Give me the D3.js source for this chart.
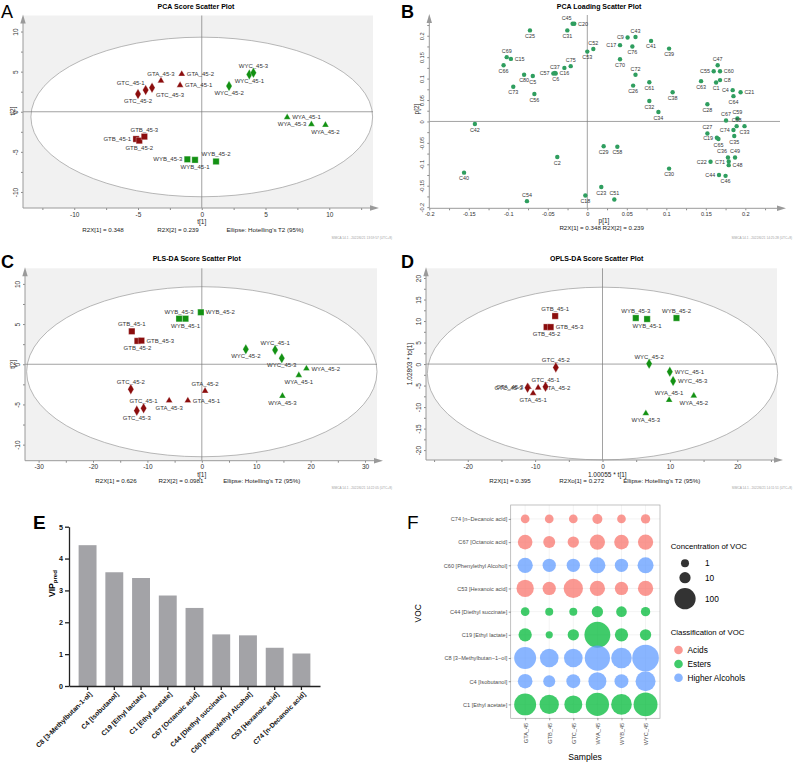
<!DOCTYPE html>
<html>
<head>
<meta charset="utf-8">
<script src="https://cdn.jsdelivr.net/npm/d3@7"></script>
<style>
  body { margin: 0; background: #fff; }
  svg { display: block; font-family: "Liberation Sans", Arial, sans-serif; }
</style>
</head>
<body>
<svg width="798" height="768"></svg>
<script>
var svg = d3.select("svg");

// ---------- data ----------
var samples = ["GTA_45-1", "GTA_45-2", "GTA_45-3", "GTB_45-1", "GTB_45-2", "GTB_45-3",
  "GTC_45-1", "GTC_45-2", "GTC_45-3", "WYA_45-1", "WYA_45-2", "WYA_45-3",
  "WYB_45-1", "WYB_45-2", "WYB_45-3", "WYC_45-1", "WYC_45-2", "WYC_45-3"];

// PCA scores
var pcaT1 = [-1.7, -1.57, -3.2, -5.15, -4.9, -4.5, -4.4, -5.0, -3.9, 6.7, 9.7, 8.6, -0.53, 1.12, -1.13, 3.73, 2.14, 4.05];
var pcaT2 = [3.3, 4.7, 3.86, -3.4, -3.6, -3.1, 2.7, 2.2, 3.0, -0.7, -1.65, -1.57, -6.0, -6.2, -5.93, 4.65, 3.2, 4.86];

// PLS-DA scores
var plsT1 = [-2.57, 0.6, -6.0, -12.87, -11.84, -11.1, -10.7, -13.05, -11.95, 17.83, 19.23, 14.82, -3.0, -0.18, -4.17, 13.47, 8.09, 14.7];
var plsT2 = [-4.52, -3.32, -4.52, 4.1, 2.9, 2.94, -5.48, -3.11, -5.77, -1.37, -0.54, -3.94, 5.67, 6.47, 5.67, 1.78, 1.86, 0.75];

// OPLS-DA scores
var oplsT1 = [-10.3, -9.55, -11.0, -7.03, -8.3, -7.7, -8.46, -6.93, -11.13, 9.89, 13.55, 6.43, 6.62, 10.98, 4.94, 9.99, 6.92, 10.48];
var oplsTo1 = [-6.8, -5.5, -5.35, 11.16, 8.6, 8.6, -5.27, -0.77, -5.5, -8.37, -7.37, -11.47, 10.47, 10.7, 10.7, -1.78, 0.07, -3.95];

// PCA loadings
var loadNames = ["C25", "C45", "C20", "C31", "C52", "C53", "C9", "C43", "C17", "C76", "C41", "C39", "C70", "C72", "C26", "C61", "C38", "C32", "C34",
  "C69", "C15", "C66", "C80", "C5", "C73", "C56", "C57", "C6", "C37", "C16", "C75", "C42", "C40", "C2", "C54", "C18", "C23", "C51", "C29", "C58", "C30",
  "C47", "C55", "C60", "C63", "C1", "C8", "C4", "C21", "C64", "C28", "C67", "C59", "C68", "C33", "C74", "C27", "C19", "C65", "C35", "C36", "C49", "C22", "C71", "C48", "C44", "C46"];
var loadP1 = [-0.0726, -0.0186, -0.0165, -0.0253, 0.0076, 0.0, 0.051, 0.061, 0.0414, 0.057, 0.0807, 0.1035, 0.0414, 0.061, 0.058, 0.0785, 0.108, 0.0785, 0.090,
  -0.102, -0.0967, -0.106, -0.080, -0.069, -0.0937, -0.067, -0.043, -0.040, -0.041, -0.029, -0.021, -0.1423, -0.156, -0.038, -0.0764, -0.0025, 0.0177, 0.0342, 0.0207, 0.038, 0.1035,
  0.165, 0.160, 0.168, 0.144, 0.163, 0.168, 0.184, 0.194, 0.185, 0.152, 0.1756, 0.190, 0.189, 0.199, 0.185, 0.152, 0.164, 0.166, 0.186, 0.178, 0.187, 0.156, 0.179, 0.179, 0.1667, 0.175];
var loadP2 = [0.2125, 0.228, 0.228, 0.2125, 0.169, 0.163, 0.196, 0.197, 0.178, 0.175, 0.188, 0.170, 0.145, 0.109, 0.0836, 0.0914, 0.068, 0.0477, 0.022,
  0.15, 0.146, 0.131, 0.109, 0.106, 0.081, 0.064, 0.112, 0.112, 0.113, 0.125, 0.129, -0.006, -0.1195, -0.083, -0.186, -0.173, -0.153, -0.182, -0.058, -0.059, -0.110,
  0.131, 0.117, 0.117, 0.094, 0.091, 0.0965, 0.073, 0.068, 0.059, 0.040, 0.0023, 0.007, -0.011, -0.011, -0.020, -0.028, -0.038, -0.041, -0.034, -0.084, -0.084, -0.094, -0.0935, -0.102, -0.125, -0.127];

// VIP
var vipNames = ["C8 [3-Methylbutan-1-ol]", "C4 [Isobutanol]", "C19 [Ethyl lactate]", "C1 [Ethyl acetate]", "C67 [Octanoic acid]",
  "C44 [Diethyl succinate]", "C60 [Phenylethyl Alcohol]", "C53 [Hexanoic acid]", "C74 [n-Decanoic acid]"];
var vipValues = [4.42, 3.57, 3.39, 2.84, 2.45, 1.62, 1.59, 1.2, 1.02];

// bubble chart
var bubbleSamples = ["GTA_45", "GTB_45", "GTC_45", "WYA_45", "WYB_45", "WYC_45"];
var vocNames = ["C74 [n\u2212Decanoic acid]", "C67 [Octanoic acid]", "C60 [Phenylethyl Alcohol]", "C53 [Hexanoic acid]",
  "C44 [Diethyl succinate]", "C19 [Ethyl lactate]", "C8 [3\u2212Methylbutan\u22121\u2212ol]", "C4 [Isobutanol]", "C1 [Ethyl acetate]"];
var vocClass = ["Acids", "Acids", "Higher Alcohols", "Acids", "Esters", "Esters", "Higher Alcohols", "Higher Alcohols", "Esters"];
var concC74 = [2.1, 2.1, 2.1, 5.5, 2.1, 3.6];
var concC67 = [30, 13.6, 10.5, 35, 30, 35];
var concC60 = [35, 21, 21, 41, 21, 41];
var concC53 = [53, 21, 75, 35, 21, 35];
var concC44 = [2.1, 1.0, 1.0, 10.5, 7.8, 3.6];
var concC19 = [21, 0.2, 10.5, 173, 21, 10.5];
var concC8 = [109, 67, 67, 161, 91, 185];
var concC4 = [30, 13.6, 25, 60, 25, 83];
var concC1 = [109, 75, 60, 129, 91, 139];
var classNames = ["Acids", "Esters", "Higher Alcohols"];
var sizeLegend = [1, 10, 100];

// ---------- label placement (layout only) ----------
var pcaPos = ["r", "r", "t", "l", "b", "t", "tl", "b", "br", "r", "b", "l", "b", "t", "l", "b", "b", "t"];
var plsPos = ["r", "t", "b", "t", "b", "r", "t", "t", "b", "b", "r", "b", "b", "r", "t", "t", "b", "b"];
var oplsPos = ["b", "r", "l", "t", "b", "r", "t", "t", "l", "t", "b", "b", "b", "t", "t", "r", "t", "r"];
var loadPos = ["b", "tl", "r", "b", "t", "b", "l", "t", "l", "b", "b", "b", "b", "t", "b", "b", "b", "b", "b",
  "t", "r", "b", "b", "b", "b", "b", "l", "b", "t", "b", "t", "b", "b", "b", "t", "b", "b", "t", "b", "b", "b",
  "t", "l", "r", "b", "b", "r", "l", "r", "b", "b", "t", "t", "t", "b", "l", "t", "l", "b", "b", "tl", "t", "l", "l", "r", "l", "b"];

var shapeOf = function(name) { return {A: d3.symbolTriangle, B: d3.symbolSquare, C: d3.symbolDiamond}[name.charAt(2)]; };
var sizeOf = function(name) { return {A: 20, B: 40, C: 32}[name.charAt(2)]; };
var colorOf = function(name) { return name.slice(0, 2) === "GT" ? "#8b0d0d" : "#139113"; };

function labelAt(px, py, pos, gap, up, down) {
  switch (pos) {
    case "r": return [px + gap, py + 2, "start"];
    case "l": return [px - gap, py + 2, "end"];
    case "t": return [px, py - up, "middle"];
    case "tl": return [px - 1, py - up, "end"];
    case "br": return [px + gap - 1, py + down, "start"];
    default: return [px, py + down, "middle"];
  }
}

function isMajor(v, step) { return Math.abs(v / step - Math.round(v / step)) < 1e-6; }
function fmt(v) { return String(+v.toFixed(3)); }

function frame(cfg) {
  var g = svg.append("g");
  var x = d3.scaleLinear().domain(cfg.xDom).range([cfg.left, cfg.right]);
  var y = d3.scaleLinear().domain(cfg.yDom).range([cfg.bottom, cfg.top]);

  if (cfg.ellipse) {
    g.append("rect")
      .attr("x", cfg.left).attr("y", cfg.top)
      .attr("width", cfg.right - cfg.left).attr("height", cfg.bottom - cfg.top)
      .attr("fill", "#f1f1f1");
    g.append("ellipse")
      .attr("cx", x(0)).attr("cy", y(cfg.ellipse.cy))
      .attr("rx", x(cfg.ellipse.rx) - x(0)).attr("ry", y(0) - y(cfg.ellipse.ry))
      .attr("fill", "#fff").attr("stroke", "#9a9a9a").attr("stroke-width", 0.7);
  }

  g.append("line")
    .attr("x1", cfg.left).attr("x2", cfg.right).attr("y1", y(0)).attr("y2", y(0))
    .attr("stroke", "#7a7a7a").attr("stroke-width", 0.7);
  g.append("line")
    .attr("x1", x(0)).attr("x2", x(0)).attr("y1", cfg.top).attr("y2", cfg.bottom)
    .attr("stroke", "#7a7a7a").attr("stroke-width", 0.7);

  var xAxis = g.append("g")
    .attr("transform", "translate(0," + cfg.bottom + ")")
    .call(d3.axisBottom(x).tickValues(cfg.xTicks).tickSize(2).tickPadding(2)
      .tickFormat(function(v) { return isMajor(v, cfg.xStep) ? fmt(v) : ""; }));
  var yAxis = g.append("g")
    .attr("transform", "translate(" + cfg.left + ",0)")
    .call(d3.axisLeft(y).tickValues(cfg.yTicks).tickSize(2)
      .tickFormat(function(v) { return isMajor(v, cfg.yStep) ? fmt(v) : ""; }));
  yAxis.selectAll("text")
    .attr("x", 0).attr("dy", 0)
    .attr("text-anchor", "middle")
    .attr("transform", "translate(-5,0) rotate(-90)");
  [xAxis, yAxis].forEach(function(a) {
    a.select(".domain").remove();
    a.attr("font-size", cfg.tickFont).attr("font-family", null);
    a.selectAll("line").attr("stroke", "#8a8a8a");
    a.selectAll("text").attr("fill", "#333");
  });

  // arrow axes
  g.append("line")
    .attr("x1", cfg.left).attr("x2", cfg.right + 1).attr("y1", cfg.bottom).attr("y2", cfg.bottom)
    .attr("stroke", "#9a9a9a").attr("stroke-width", 1);
  g.append("path")
    .attr("d", "M" + (cfg.right + 6) + "," + cfg.bottom + "l-9,-2.7v5.4z")
    .attr("fill", "#9a9a9a");
  g.append("line")
    .attr("x1", cfg.left).attr("x2", cfg.left).attr("y1", cfg.bottom).attr("y2", cfg.top + 4)
    .attr("stroke", "#9a9a9a").attr("stroke-width", 1);
  g.append("path")
    .attr("d", "M" + cfg.left + "," + (cfg.top - 1) + "l-2.7,9h5.4z")
    .attr("fill", "#9a9a9a");

  g.append("text")
    .attr("x", cfg.titleX).attr("y", cfg.titleY)
    .attr("text-anchor", "middle").attr("font-weight", "bold").attr("font-size", 7)
    .text(cfg.title);
  g.append("text")
    .attr("x", cfg.xLabelX).attr("y", cfg.xLabelY)
    .attr("text-anchor", "middle").attr("font-size", 6.5).attr("fill", "#222")
    .text(cfg.xLabel);
  g.append("text")
    .attr("transform", "translate(" + cfg.yLabelX + "," + cfg.yLabelY + ") rotate(-90)")
    .attr("text-anchor", "middle").attr("font-size", 6.5).attr("fill", "#222")
    .text(cfg.yLabel);
  cfg.stats.forEach(function(s) {
    g.append("text")
      .attr("x", s[1]).attr("y", cfg.statY)
      .attr("text-anchor", "middle").attr("font-size", 6.2).attr("fill", "#222")
      .text(s[0]);
  });
  g.append("text")
    .attr("x", cfg.stampX).attr("y", cfg.stampY)
    .attr("text-anchor", "end").attr("font-size", 3.2).attr("fill", "#a0a0a0")
    .text(cfg.stamp);
  g.append("text")
    .attr("x", cfg.letterX).attr("y", cfg.letterY)
    .attr("font-size", 18).attr("font-weight", cfg.letterWeight)
    .text(cfg.letter);

  return {g: g, x: x, y: y};
}

function drawScores(f, t1, t2, pos) {
  var pts = samples.map(function(n, i) { return {name: n, px: f.x(t1[i]), py: f.y(t2[i]), pos: pos[i]}; });
  f.g.append("g").selectAll("text").data(pts).join("text")
    .each(function(d) {
      var l = labelAt(d.px, d.py, d.pos, 5, 5, 9);
      d3.select(this).attr("x", l[0]).attr("y", l[1]).attr("text-anchor", l[2]);
    })
    .attr("font-size", 6).attr("fill", "#333")
    .text(function(d) { return d.name; });
  f.g.append("g").selectAll("path").data(pts).join("path")
    .attr("transform", function(d) { return "translate(" + d.px + "," + d.py + ")"; })
    .attr("d", function(d) { return d3.symbol(shapeOf(d.name), sizeOf(d.name))(); })
    .attr("fill", function(d) { return colorOf(d.name); })
    .attr("stroke", "#fff").attr("stroke-width", 0.3);
}

// ---------- A: PCA scores ----------
var fA = frame({
  left: 23, right: 373, top: 15.5, bottom: 208,
  xDom: [-14.02, 13.43], yDom: [-12, 12],
  xTicks: d3.range(-12.5, 13, 2.5), xStep: 5,
  yTicks: d3.range(-10, 11, 2.5), yStep: 5, tickFont: 6.5,
  ellipse: {rx: 13.4, ry: 9.95, cy: -0.65},
  title: "PCA Score Scatter Plot", titleX: 196, titleY: 8.5,
  xLabel: "t[1]", xLabelX: 201.7, xLabelY: 224,
  yLabel: "t[2]", yLabelX: 15, yLabelY: 111,
  stats: [["R2X[1] = 0.348", 103], ["R2X[2] = 0.239", 178], ["Ellipse: Hotelling's T2 (95%)", 265]], statY: 232.3,
  stamp: "SIMCA 14.1 - 2022/6/21 13:59:57 (UTC+8)", stampX: 392, stampY: 238.5,
  letter: "A", letterX: 1, letterY: 18, letterWeight: "normal"
});
drawScores(fA, pcaT1, pcaT2, pcaPos);

// ---------- B: PCA loadings ----------
var fB = frame({
  left: 429.3, right: 780, top: 15, bottom: 208.3,
  xDom: [-0.2, 0.2439], yDom: [-0.2027, 0.2484],
  xTicks: d3.range(-8, 10).map(function(i) { return i * 0.025; }), xStep: 0.05,
  yTicks: d3.range(-8, 10).map(function(i) { return i * 0.025; }), yStep: 0.05, tickFont: 5.6,
  ellipse: null,
  title: "PCA Loading Scatter Plot", titleX: 599, titleY: 8.5,
  xLabel: "p[1]", xLabelX: 604, xLabelY: 223,
  yLabel: "p[2]", yLabelX: 418.5, yLabelY: 109,
  stats: [["R2X[1] = 0.348 R2X[2] = 0.239", 601.7]], statY: 230,
  stamp: "SIMCA 14.1 - 2022/6/21 14:25:28 (UTC+8)", stampX: 792, stampY: 238.5,
  letter: "B", letterX: 401, letterY: 18.3, letterWeight: "bold"
});
var loadPts = loadNames.map(function(n, i) { return {name: n, px: fB.x(loadP1[i]), py: fB.y(loadP2[i]), pos: loadPos[i]}; });
fB.g.append("g").selectAll("circle").data(loadPts).join("circle")
  .attr("cx", function(d) { return d.px; })
  .attr("cy", function(d) { return d.py; })
  .attr("r", 2.2)
  .attr("fill", "#2f9e5f");
fB.g.append("g").selectAll("text").data(loadPts).join("text")
  .each(function(d) {
    var l = labelAt(d.px, d.py, d.pos, 3.8, 4.2, 7.6);
    d3.select(this).attr("x", l[0]).attr("y", l[1]).attr("text-anchor", l[2]);
  })
  .attr("font-size", 5.4).attr("fill", "#333")
  .text(function(d) { return d.name; });

// ---------- C: PLS-DA scores ----------
var fC = frame({
  left: 25, right: 377, top: 268.3, bottom: 460.7,
  xDom: [-32.5, 32.2], yDom: [-12, 11.94],
  xTicks: d3.range(-30, 31, 5), xStep: 10,
  yTicks: d3.range(-10, 11, 2.5), yStep: 5, tickFont: 6.5,
  ellipse: {rx: 32.2, ry: 10.58, cy: -0.93},
  title: "PLS-DA Score Scatter Plot", titleX: 196.7, titleY: 260.8,
  xLabel: "t[1]", xLabelX: 201.7, xLabelY: 477.3,
  yLabel: "t[2]", yLabelX: 15, yLabelY: 364.3,
  stats: [["R2X[1] = 0.626", 116], ["R2X[2] = 0.0981", 181], ["Ellipse: Hotelling's T2 (95%)", 261.7]], statY: 483,
  stamp: "SIMCA 14.1 - 2022/6/21 14:22:05 (UTC+8)", stampX: 392, stampY: 489,
  letter: "C", letterX: 1, letterY: 268.3, letterWeight: "bold"
});
drawScores(fC, plsT1, plsT2, plsPos);

// ---------- D: OPLS-DA scores ----------
var fD = frame({
  left: 426, right: 777, top: 268.3, bottom: 460,
  xDom: [-26.2, 25.9], yDom: [-22.3, 22.26],
  xTicks: d3.range(-25, 26, 5), xStep: 10,
  yTicks: d3.range(-20, 21, 2.5), yStep: 5, tickFont: 6.5,
  ellipse: {rx: 26.0, ry: 20.07, cy: -2.2},
  title: "OPLS-DA Score Scatter Plot", titleX: 596.7, titleY: 260.8,
  xLabel: "1.00055 * t[1]", xLabelX: 607.3, xLabelY: 476.6,
  yLabel: "1.02803 * to[1]", yLabelX: 411.5, yLabelY: 364,
  stats: [["R2X[1] = 0.395", 510], ["R2Xo[1] = 0.272", 581.7], ["Ellipse: Hotelling's T2 (95%)", 661.7]], statY: 483,
  stamp: "SIMCA 14.1 - 2022/6/21 14:11:51 (UTC+8)", stampX: 792, stampY: 489,
  letter: "D", letterX: 401, letterY: 268.3, letterWeight: "bold"
});
drawScores(fD, oplsT1, oplsTo1, oplsPos);

// ---------- E: VIP bars ----------
var gE = svg.append("g");
var xE = d3.scaleBand().domain(vipNames).range([69, 320]).paddingInner(0.33).paddingOuter(0.36);
var yE = d3.scaleLinear().domain([0, 5]).range([686, 526.7]);

gE.selectAll("rect").data(vipValues).join("rect")
  .attr("x", function(d, i) { return xE(vipNames[i]); })
  .attr("y", function(d) { return yE(d); })
  .attr("width", xE.bandwidth())
  .attr("height", function(d) { return yE(0) - yE(d); })
  .attr("fill", "#a3a3a7");

var yAxE = gE.append("g")
  .attr("transform", "translate(69,0)")
  .call(d3.axisLeft(yE).ticks(5).tickSize(4).tickSizeOuter(0).tickPadding(2).tickFormat(d3.format("d")));
var xAxE = gE.append("g")
  .attr("transform", "translate(0,686)")
  .call(d3.axisBottom(xE).tickSize(4).tickSizeOuter(0));
xAxE.selectAll("text")
  .attr("x", 0).attr("y", 0).attr("dy", "0.35em")
  .attr("text-anchor", "end")
  .attr("transform", "translate(3,7) rotate(-45)");
[yAxE, xAxE].forEach(function(a) {
  a.attr("font-size", 6.8).attr("font-family", null).attr("font-weight", "bold");
  a.selectAll("line, path").attr("stroke", "#222").attr("stroke-width", 1.3);
  a.selectAll("text").attr("fill", "#111");
});
yAxE.selectAll("text").attr("font-size", 7.2);

var vipLabel = gE.append("text")
  .attr("transform", "translate(54.5,597) rotate(-90)")
  .attr("text-anchor", "start").attr("font-weight", "bold").attr("font-size", 8.6);
vipLabel.append("tspan").text("VIP");
vipLabel.append("tspan").attr("font-size", 6).attr("dy", 2).text("pred");

gE.append("text")
  .attr("x", 33).attr("y", 529)
  .attr("font-size", 19).attr("font-weight", "bold")
  .text("E");

// ---------- F: bubble chart ----------
var gF = svg.append("g");
var panF = {left: 510.7, right: 660, top: 505, bottom: 718.3};
var xF = d3.scalePoint().domain(bubbleSamples).range([panF.left, panF.right]).padding(0.6);
var yF = d3.scalePoint().domain(vocNames).range([panF.top, panF.bottom]).padding(0.6);
var rF = d3.scaleSqrt().domain([0, 185]).range([3.27, 13.3]);
var classColor = d3.scaleOrdinal().domain(classNames).range(["#F8766D", "#00BA38", "#619CFF"]);
var concRows = [concC74, concC67, concC60, concC53, concC44, concC19, concC8, concC4, concC1];

gF.append("rect")
  .attr("x", panF.left).attr("y", panF.top)
  .attr("width", panF.right - panF.left).attr("height", panF.bottom - panF.top)
  .attr("fill", "#fff");
gF.append("g").selectAll("line").data(bubbleSamples).join("line")
  .attr("x1", function(d) { return xF(d); }).attr("x2", function(d) { return xF(d); })
  .attr("y1", panF.top).attr("y2", panF.bottom)
  .attr("stroke", "#ebebeb").attr("stroke-width", 0.6);
gF.append("g").selectAll("line").data(vocNames).join("line")
  .attr("y1", function(d) { return yF(d); }).attr("y2", function(d) { return yF(d); })
  .attr("x1", panF.left).attr("x2", panF.right)
  .attr("stroke", "#ebebeb").attr("stroke-width", 0.6);

var cells = [];
concRows.forEach(function(row, i) {
  row.forEach(function(v, j) {
    cells.push({voc: vocNames[i], cls: vocClass[i], sample: bubbleSamples[j], value: v});
  });
});
gF.append("g").selectAll("circle").data(cells).join("circle")
  .attr("cx", function(d) { return xF(d.sample); })
  .attr("cy", function(d) { return yF(d.voc); })
  .attr("r", function(d) { return rF(d.value); })
  .attr("fill", function(d) { return classColor(d.cls); })
  .attr("fill-opacity", 0.75);

gF.append("rect")
  .attr("x", panF.left).attr("y", panF.top)
  .attr("width", panF.right - panF.left).attr("height", panF.bottom - panF.top)
  .attr("fill", "none").attr("stroke", "#a8a8a8").attr("stroke-width", 0.7);

var yAxF = gF.append("g")
  .attr("transform", "translate(" + panF.left + ",0)")
  .call(d3.axisLeft(yF).tickSize(2).tickPadding(1.5));
var xAxF = gF.append("g")
  .attr("transform", "translate(0," + panF.bottom + ")")
  .call(d3.axisBottom(xF).tickSize(2).tickPadding(1.5));
xAxF.selectAll("text")
  .attr("x", 0).attr("y", 0).attr("dy", "0.35em")
  .attr("text-anchor", "end")
  .attr("transform", "translate(0,4.5) rotate(-90)");
[yAxF, xAxF].forEach(function(a) {
  a.select(".domain").remove();
  a.attr("font-size", 5.6).attr("font-family", null);
  a.selectAll("line").attr("stroke", "#333").attr("stroke-width", 0.5);
  a.selectAll("text").attr("fill", "#4d4d4d");
});

gF.append("text")
  .attr("transform", "translate(421,613.3) rotate(-90)")
  .attr("text-anchor", "middle").attr("font-size", 8.4)
  .text("VOC");
gF.append("text")
  .attr("x", 585).attr("y", 760.3)
  .attr("text-anchor", "middle").attr("font-size", 8.6)
  .text("Samples");

// legends
gF.append("text")
  .attr("x", 670.7).attr("y", 548.8)
  .attr("font-size", 7.8)
  .text("Concentration of VOC");
var sizeKeyY = [563.3, 577.7, 598.7];
gF.append("g").selectAll("circle").data(sizeLegend).join("circle")
  .attr("cx", 685).attr("cy", function(d, i) { return sizeKeyY[i]; })
  .attr("r", function(d) { return rF(d); })
  .attr("fill", "#333");
gF.append("g").selectAll("text").data(sizeLegend).join("text")
  .attr("x", 705).attr("y", function(d, i) { return sizeKeyY[i] + 3; })
  .attr("font-size", 8.3)
  .text(function(d) { return d; });

gF.append("text")
  .attr("x", 670.7).attr("y", 635)
  .attr("font-size", 7.8)
  .text("Classification of VOC");
var classKeyY = [650, 664, 677.7];
gF.append("g").selectAll("circle").data(classNames).join("circle")
  .attr("cx", 678.5).attr("cy", function(d, i) { return classKeyY[i]; })
  .attr("r", 4.3)
  .attr("fill", function(d) { return classColor(d); })
  .attr("fill-opacity", 0.75);
gF.append("g").selectAll("text").data(classNames).join("text")
  .attr("x", 687.5).attr("y", function(d, i) { return classKeyY[i] + 3; })
  .attr("font-size", 8.3)
  .text(function(d) { return d; });

gF.append("text")
  .attr("x", 407).attr("y", 529)
  .attr("font-size", 19)
  .text("F");
</script>
</body>
</html>
